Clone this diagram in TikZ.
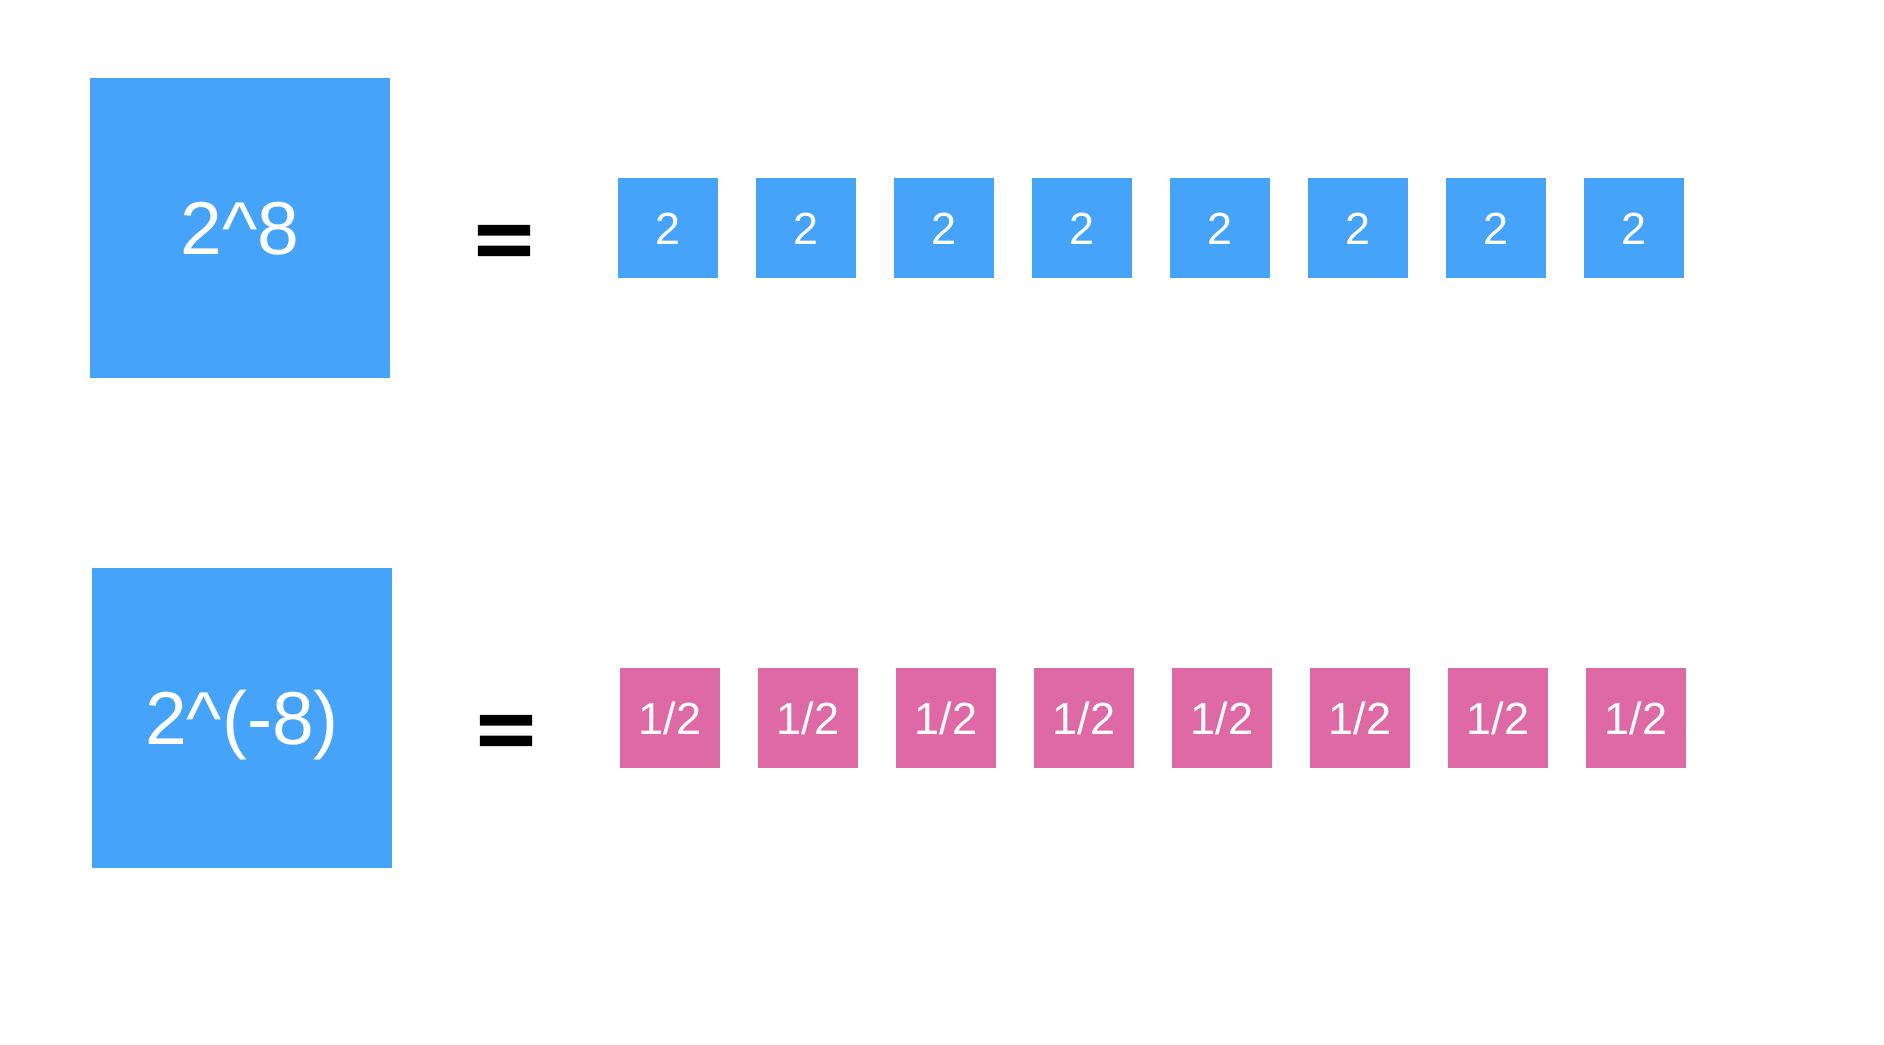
\documentclass[tikz,border=0pt]{standalone}
\usepackage{graphicx}
\usepackage{fontspec}
\setmainfont{Liberation Sans}
\newfontfamily\eqfont[FakeBold=3]{Liberation Sans Bold}
\definecolor{boxblue}{HTML}{45A3F9}
\definecolor{boxpink}{HTML}{DF69A5}
\tikzset{
  bigbox/.style={fill=boxblue, draw=none, minimum width=150pt, minimum height=150pt, inner sep=0pt, text=white, font=\fontsize{37.5pt}{40pt}\selectfont, text height=26.9pt, text depth=0pt},
  smallbox/.style={fill=#1, draw=none, minimum width=50pt, minimum height=50pt, inner sep=0pt, text=white, font=\fontsize{22.5pt}{24pt}\selectfont, text height=16.1pt, text depth=0pt},
  eqsign/.style={inner sep=0pt, font=\eqfont\fontsize{49pt}{52pt}\selectfont, text=black}
}
\begin{document}
\begin{tikzpicture}[x=0.5pt,y=-0.5pt]
\useasboundingbox (0,0) rectangle (1884,1044);
\node[bigbox] (big1) at (240,228) {2\textasciicircum 8};
\node[eqsign] (eq1) at (504,246) {\scalebox{1}[0.78]{=}};
\foreach \i in {0,...,7} {
  \node[smallbox=boxblue] (t\i) at ({668+138*\i},228) {2};
}
\node[bigbox] (big2) at (242,718) {2\textasciicircum(-8)};
\node[eqsign] (eq2) at (506,736) {\scalebox{1}[0.78]{=}};
\foreach \i in {0,...,7} {
  \node[smallbox=boxpink] (h\i) at ({670+138*\i},718) {1/2};
}
\end{tikzpicture}
\end{document}
